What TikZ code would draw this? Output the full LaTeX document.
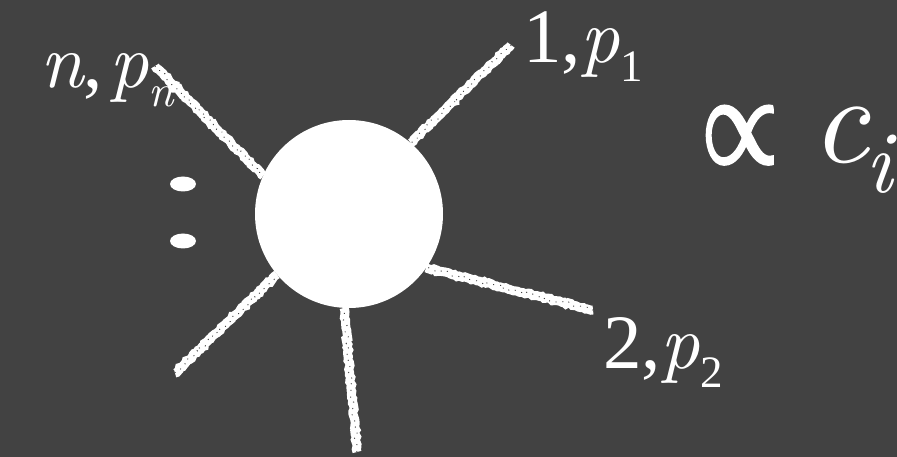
\documentclass[tikz,border=0pt]{standalone}
\usepackage{fontspec}
\setmainfont{Liberation Serif}
\newfontfamily\itfam{lmroman10-italic.otf}
\newfontfamily\mathsym{latinmodern-math.otf}[FakeBold=4]
\usetikzlibrary{decorations.pathmorphing}
\definecolor{bg}{RGB}{66,66,66}
\tikzset{
  chalk/.style={draw=white, line width=9pt, decorate,
    decoration={random steps, segment length=2.5pt, amplitude=1pt}},
  speck/.style={draw=bg, line width=0.9pt, dash pattern=on 1pt off 6pt, decorate,
    decoration={random steps, segment length=3pt, amplitude=2.2pt}},
  lbl/.style={text=white, inner sep=0pt, outer sep=0pt, anchor=base west,
    font=\fontsize{77}{80}\selectfont},
  blob/.style={circle, fill=white, minimum size=188pt, inner sep=0pt, outer sep=0pt},
}
\newcommand{\lowsub}[1]{\raisebox{-19pt}{\fontsize{45}{45}\selectfont #1}}
\begin{document}
\begin{tikzpicture}[x=1pt,y=-1pt]
\fill[bg] (0,0) rectangle (897,457);
\useasboundingbox (0,0) rectangle (897,457);
\node[blob] (c) at (349,214) {};
\coordinate (en) at (155,66);
\coordinate (e1) at (511,45);
\coordinate (e2) at (593,310);
\coordinate (e3) at (357,452);
\coordinate (e4) at (175,373);
\node[lbl] (ln) at (40,88) {{\itfam n},\kern7pt{\itfam p}\lowsub{\itfam n}};
\foreach \e/\a in {en/156, e1/49, e2/325, e3/267, e4/220}{
  \draw[chalk] (\e) -- (c.\a);
  \draw[speck] (\e) -- (c.\a);
}
\fill[white] (183,184) ellipse [x radius=13, y radius=7.5];
\fill[white] (183,241) ellipse [x radius=13, y radius=7.5];
\node[lbl] (l1) at (523,63) {1,{\itfam p}\lowsub{1}};
\node[lbl] (l2) at (603,368) {2,{\itfam p}\lowsub{2}};
\node[text=white, inner sep=0pt, anchor=base west] (prop) at (702,162)
  {\resizebox{75pt}{55pt}{\mathsym ∝}};
\node[lbl, font=\fontsize{126}{128}\selectfont] (ci) at (811,163)
  {{\itfam c}\kern-3pt\raisebox{-30pt}{\fontsize{88}{90}\selectfont\itfam i}};
\end{tikzpicture}
\end{document}
